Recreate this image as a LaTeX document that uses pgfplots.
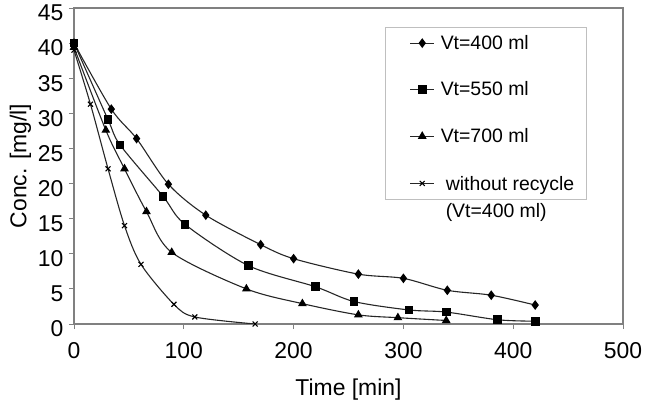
\documentclass[border=0pt]{standalone}
\usepackage{pgfplots}
\pgfplotsset{compat=1.18}
\usepackage{fontspec}
\setmainfont{Liberation Sans}

\begin{document}
\begin{tikzpicture}
\begin{axis}[
  at={(74bp,76bp)}, anchor=south west,
  scale only axis, width=549bp, height=316bp,
  xmin=0, xmax=500, ymin=0, ymax=45,
  xtick={0,100,...,500}, ytick={0,5,...,45},
  tick pos=left, tick align=outside,
  major tick length=5bp,
  axis line style={gray, line width=1.2bp},
  tick style={gray, line width=0.8bp},
  /pgf/number format/assume math mode=true,
  ticklabel style={font=\fontsize{23}{25}\selectfont},
  xticklabel style={yshift=-10bp},
  yticklabel style={xshift=-2bp, yshift=-5bp},
  xlabel={Time [min]}, ylabel={Conc. [mg/l]},
  label style={font=\fontsize{23}{25}\selectfont},
  xlabel style={yshift=-13bp},
  legend cell align=left,
  legend style={at={(0.567,0.94)}, anchor=north west,
    draw=gray!50, line width=0.8bp,
    font=\fontsize{19.5}{22}\selectfont,
    row sep=27bp, inner xsep=10bp, inner ysep=6bp},
  legend image code/.code={
    \path (-14bp,0bp) (28bp,0bp);
    \draw[mark repeat=2,mark phase=2,#1]
      plot coordinates {(0bp,0bp) (12bp,0bp) (24bp,0bp)};
  },
  every axis plot/.append style={black!85, line width=1.1bp, smooth, tension=0.5},
]
% Vt = 400 ml
\addplot[mark=diamond*, mark size=4bp, mark options={black, solid}] coordinates {
  (0,40) (34,30.6) (57,26.4) (86,19.9) (120,15.5) (170,11.3) (200,9.3)
  (259,7.1) (300,6.5) (340,4.8) (380,4.1) (420,2.7)};
\addlegendentry{Vt=400 ml}
% Vt = 550 ml
\addplot[mark=square*, mark size=3.8bp, mark options={black, solid}] coordinates {
  (0,40) (31,29.1) (42,25.5) (81,18.2) (101,14.2) (159,8.3) (220,5.3)
  (255,3.2) (305,2.0) (339,1.7) (386,0.6) (420,0.4)};
\addlegendentry{Vt=550 ml}
% Vt = 700 ml
\addplot[mark=triangle*, mark size=4bp, mark options={black, solid}] coordinates {
  (0,39.4) (29,27.6) (46,22.1) (66,16.0) (89,10.2) (157,5.0) (208,2.9)
  (259,1.3) (295,0.9) (339,0.5)};
\addlegendentry{Vt=700 ml}
% single pass, no recycle
\addplot[mark=x, mark size=3.5bp, mark options={black, solid}] coordinates {
  (0,39) (15,31.3) (31,22.1) (46,14.0) (61,8.5) (91,2.8) (110,1.0) (165,0)};
\addlegendentry{\hspace{5bp}\begin{tabular}[t]{@{}l@{}}without recycle\\[5bp](Vt=400 ml)\end{tabular}}
\end{axis}
\pgfresetboundingbox
\path (0,0) rectangle (656bp,400bp);
\end{tikzpicture}
\end{document}
